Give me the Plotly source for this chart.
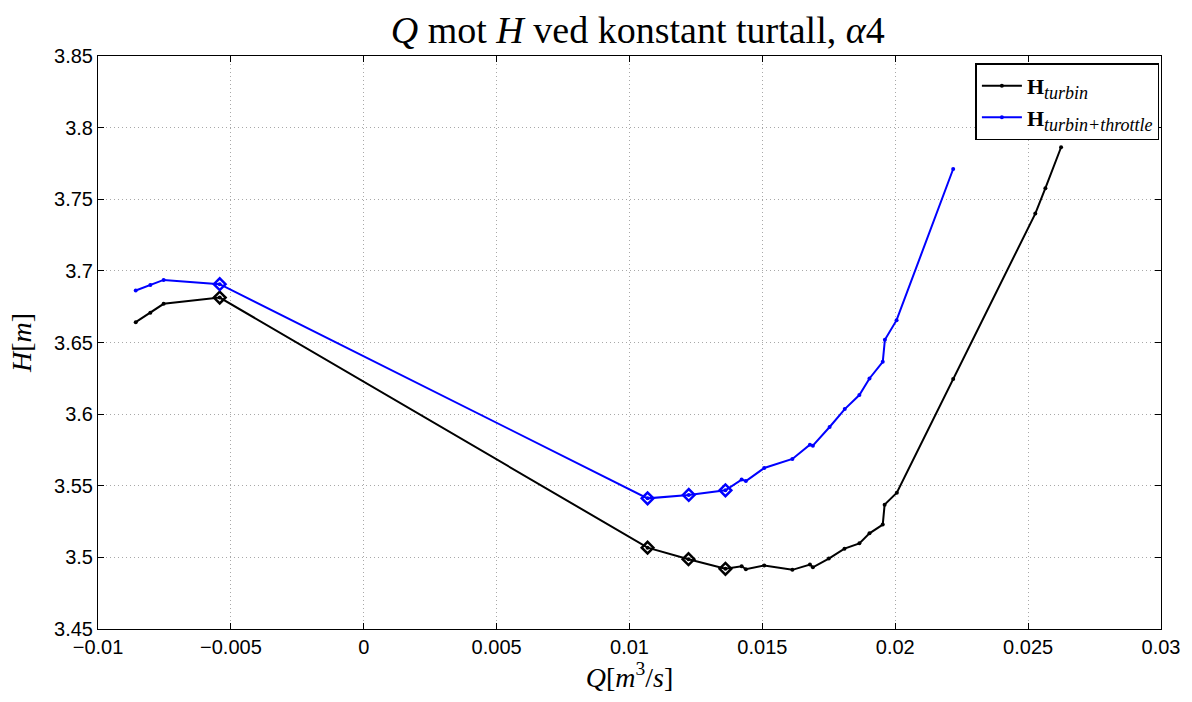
import plotly.graph_objects as go

# H_turbin (black)
q_turbin = [-0.00858, -0.00803, -0.00753, -0.00542, 0.01068, 0.01222, 0.01361, 0.01422, 0.01438,
            0.01507, 0.01613, 0.01679, 0.0169, 0.0175, 0.01809, 0.01865, 0.01903, 0.01953, 0.0196,
            0.02006, 0.02218, 0.02527, 0.02565, 0.02624]
h_turbin = [3.6642, 3.6707, 3.677, 3.6814, 3.5068, 3.4987, 3.492, 3.4938, 3.4917,
            3.4943, 3.4913, 3.495, 3.4931, 3.4992, 3.5061, 3.5098, 3.5168, 3.5229, 3.5368,
            3.5452, 3.6245, 3.740, 3.7577, 3.7863]

# H_turbin+throttle (blue)
q_throttle = [-0.00858, -0.00803, -0.00753, -0.00542, 0.01068, 0.01223, 0.01361, 0.01422, 0.01438,
              0.01507, 0.01613, 0.01679, 0.0169, 0.01753, 0.0181, 0.01865, 0.01903, 0.01953, 0.01961,
              0.02005, 0.02218]
h_throttle = [3.6863, 3.6902, 3.6937, 3.6907, 3.5412, 3.5436, 3.5468, 3.5543, 3.5533,
              3.5624, 3.5687, 3.5787, 3.578, 3.591, 3.6035, 3.6133, 3.6249, 3.6365, 3.6519,
              3.6656, 3.7711]

# highlighted points (diamonds)
q_diamond_t = [-0.00542, 0.01068, 0.01222, 0.01361]
h_diamond_t = [3.6814, 3.5068, 3.4987, 3.492]
q_diamond_b = [-0.00542, 0.01068, 0.01223, 0.01361]
h_diamond_b = [3.6907, 3.5412, 3.5436, 3.5468]

x_ticks = [-0.01, -0.005, 0, 0.005, 0.01, 0.015, 0.02, 0.025, 0.03]
x_ticklabels = ["\u22120.01", "\u22120.005", "0", "0.005", "0.01", "0.015", "0.02", "0.025", "0.03"]
y_ticks = [3.45, 3.5, 3.55, 3.6, 3.65, 3.7, 3.75, 3.8, 3.85]
y_ticklabels = ["3.45", "3.5", "3.55", "3.6", "3.65", "3.7", "3.75", "3.8", "3.85"]

serif = "Liberation Serif"
sans = "Liberation Sans"

fig = go.Figure()
fig.add_trace(go.Scatter(x=q_turbin, y=h_turbin, mode="lines+markers",
                         line=dict(color="black", width=2),
                         marker=dict(symbol="circle", size=4, color="black"),
                         name="<b>H</b><sub><span style='font-size:18px'><i>turbin</i></span></sub>"))
fig.add_trace(go.Scatter(x=q_throttle, y=h_throttle, mode="lines+markers",
                         line=dict(color="#0000ff", width=2),
                         marker=dict(symbol="circle", size=4, color="#0000ff"),
                         name="<b>H</b><sub><span style='font-size:18px'><i>turbin+throttle</i></span></sub>"))
fig.add_trace(go.Scatter(x=q_diamond_t, y=h_diamond_t, mode="markers", showlegend=False,
                         marker=dict(symbol="diamond-open", size=9, color="black",
                                     line=dict(width=2.5, color="black"))))
fig.add_trace(go.Scatter(x=q_diamond_b, y=h_diamond_b, mode="markers", showlegend=False,
                         marker=dict(symbol="diamond-open", size=9, color="#0000ff",
                                     line=dict(width=2.5, color="#0000ff"))))

axis_common = dict(showline=True, linecolor="black", linewidth=1, mirror="ticks",
                   ticks="inside", ticklen=6, tickcolor="black",
                   showgrid=True, gridcolor="#a8a8a8", griddash="1px,3px", gridwidth=1,
                   zeroline=False, tickfont=dict(family=sans, size=20, color="black"))

fig.update_layout(
    width=1192, height=702,
    margin=dict(l=98, r=27, t=56, b=73),
    paper_bgcolor="white", plot_bgcolor="white",
    title=dict(text="<i>Q</i> mot <i>H</i> ved konstant turtall, <i>\u03b1</i>4",
               font=dict(family=serif, size=38, color="black"),
               x=0.535, xanchor="center", y=0.958, yanchor="middle"),
    xaxis=dict(range=[-0.01, 0.03], tickvals=x_ticks, ticktext=x_ticklabels,
               title=dict(text="<i>Q</i>[<i>m</i><sup>3</sup>/<i>s</i>]",
                          font=dict(family=serif, size=28, color="black"), standoff=4),
               **axis_common),
    yaxis=dict(range=[3.45, 3.85], tickvals=y_ticks, ticktext=y_ticklabels,
               title=dict(text="<i>H</i>[<i>m</i>]",
                          font=dict(family=serif, size=28, color="black"), standoff=14),
               **axis_common),
    legend=dict(x=0.9985, y=0.987, xanchor="right", yanchor="top",
                bgcolor="white", bordercolor="black", borderwidth=1.5,
                font=dict(family=serif, size=22, color="black"),
                tracegroupgap=0, itemwidth=40),
)

fig.write_html("out.html")
